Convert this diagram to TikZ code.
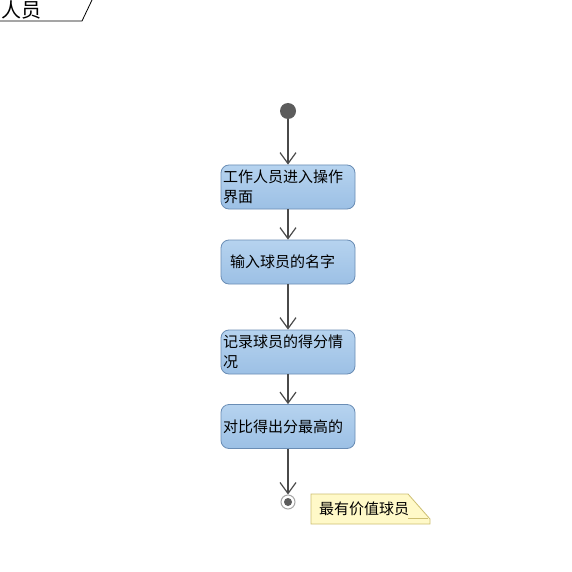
\documentclass[tikz,border=0pt]{standalone}
\usepackage{fontspec}
\setmainfont{Noto Sans CJK SC}
\usetikzlibrary{arrows.meta}
\definecolor{boxtop}{HTML}{B6D3EF}
\definecolor{boxbot}{HTML}{9CC0E5}
\definecolor{boxline}{HTML}{6A8DB5}
\definecolor{flowline}{HTML}{4A4A4A}
\definecolor{notefill}{HTML}{FFF9C8}
\definecolor{noteline}{HTML}{CDBF72}
\tikzset{
  actbox/.style={draw=boxline, line width=0.8pt, rounded corners=8pt,
    top color=boxtop, bottom color=boxbot,
    minimum width=134pt, minimum height=44pt, text width=130pt,
    inner xsep=2pt, inner ysep=0pt, align=left,
    font=\fontsize{15pt}{19.5pt}\selectfont},
  flow/.style={draw=flowline, line width=1.1pt,
    -{Straight Barb[length=11pt,width=16pt,line width=1.2pt]}},
  startnode/.style={circle, fill=flowline!90, minimum size=16pt, inner sep=0pt},
  endnode/.style={circle, draw=gray!70, line width=1pt, fill=white, minimum size=14pt, inner sep=0pt},
  enddot/.style={circle, fill=flowline!90, minimum size=8pt, inner sep=0pt},
  notetext/.style={font=\fontsize{15pt}{18pt}\selectfont, inner sep=0pt, anchor=west}
}
\begin{document}
\begin{tikzpicture}[x=1pt,y=-1pt]
\useasboundingbox (0,0) rectangle (571,572);
\fill[white] (0,0) rectangle (571,572);
% swimlane tab
\draw[black, line width=0.8pt] (0,21) -- (82,21) -- (92,0);
\node[font=\fontsize{20pt}{22pt}\selectfont, inner sep=0pt, anchor=west] (lane) at (1,10) {人员};
% nodes
\node[startnode] (start) at (288,111) {};
\node[actbox] (a1) at (288,187) {工作人员进入操作\\界面};
\node[actbox] (a2) at (288,262) {\hspace*{7pt}输入球员的名字};
\node[actbox] (a3) at (288,352) {记录球员的得分情\\况};
\node[actbox] (a4) at (288,426.5) {对比得出分最高的};
\node[endnode] (end) at (288,502) {};
\node[enddot] (enddot) at (288,502) {};
% note
\draw[noteline, fill=notefill, line width=0.8pt] (311,494) -- (408,494) -- (430,519) -- (430,524) -- (311,524) -- cycle;
\draw[noteline, line width=0.6pt] (408,518) -- (428,518);
\node[notetext] (note) at (319,509) {最有价值球员};
% flows
\draw[flow] (start) -- (a1);
\draw[flow] (a1) -- (a2);
\draw[flow] (a2) -- (a3);
\draw[flow] (a3) -- (a4);
\draw[flow] (a4) -- (end);
\end{tikzpicture}
\end{document}
